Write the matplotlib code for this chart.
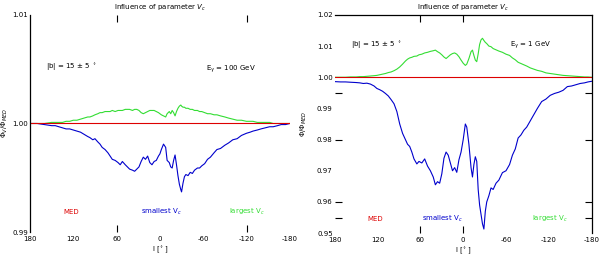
import numpy as np
import matplotlib
matplotlib.use("Agg")
import matplotlib.pyplot as plt
from matplotlib.ticker import FixedLocator

# longitude grid and relative deviations (x1e-4) for the left panel
l_left = [180, 170, 160, 150, 145, 140, 135, 130, 125, 120,
          115, 110, 105, 100, 97, 93, 90, 86, 83, 80,
          76, 72, 69, 66, 62, 58, 55, 52, 48, 45,
          42, 38, 35, 32, 29, 26, 23, 20, 17, 14,
          11, 8, 5, 2, 0, -2, -5, -8, -10, -13,
          -15, -17, -19, -21, -23, -25, -27, -29, -30, -32,
          -34, -36, -39, -42, -45, -48, -52, -55, -58, -62,
          -66, -70, -75, -79, -84, -90, -95, -101, -107, -113,
          -120, -125, -129, -135, -140, -146, -152, -157, -163, -168,
          -174, -180]
small_left = [0, 0, -1, -2, -2, -3, -4, -5, -5, -6,
              -7, -8, -10, -12, -13, -15, -14, -17, -19, -22,
              -24, -27, -30, -33, -34, -36, -38, -35, -38, -40,
              -42, -43, -44, -42, -40, -35, -31, -33, -30, -36,
              -38, -35, -34, -30, -28, -24, -19, -22, -34, -36,
              -40, -41, -34, -29, -38, -48, -56, -61, -63, -55,
              -49, -47, -48, -45, -46, -43, -41, -41, -39, -37,
              -33, -31, -27, -24, -23, -20, -18, -15, -14, -11,
              -9, -8, -7, -6, -5, -4, -3, -3, -2, -1,
              -1, 0]
large_left = [0, 0, 0, 1, 1, 1, 1, 2, 2, 3,
              3, 4, 5, 6, 6, 7, 8, 9, 10, 10,
              11, 11, 11, 12, 11, 12, 12, 12, 13, 13,
              13, 12, 13, 13, 12, 10, 9, 10, 11, 12,
              12, 12, 11, 10, 9, 8, 7, 6, 9, 11,
              9, 12, 10, 7, 11, 14, 16, 17, 16, 15,
              15, 14, 14, 13, 13, 12, 12, 11, 11, 10,
              9, 9, 8, 8, 7, 6, 5, 4, 3, 3,
              2, 2, 2, 1, 1, 1, 1, 0, 0, 0,
              0, 0]

# right panel
l_right = [180, 172, 165, 158, 150, 145, 140, 135, 130, 125,
           121, 117, 113, 109, 105, 101, 97, 93, 89, 85,
           81, 78, 75, 72, 69, 65, 62, 58, 54, 50,
           46, 42, 39, 36, 33, 30, 27, 24, 21, 18,
           15, 12, 9, 6, 3, 0, -3, -5, -8, -11,
           -13, -15, -17, -19, -21, -23, -25, -27, -29, -31,
           -33, -36, -39, -42, -46, -50, -55, -60, -65, -69,
           -73, -77, -81, -85, -89, -94, -99, -104, -110, -116,
           -122, -128, -134, -140, -146, -152, -158, -164, -170, -175,
           -180]
small_right = [-14, -15, -15, -16, -17, -18, -20, -19, -22, -28,
               -36, -40, -45, -52, -60, -72, -85, -110, -150, -180,
               -200, -215, -222, -240, -262, -278, -270, -275, -262, -285,
               -300, -320, -345, -335, -340, -310, -260, -240, -250, -275,
               -300, -290, -305, -265, -240, -200, -150, -160, -215, -290,
               -320, -280, -255, -270, -360, -410, -440, -470, -487, -430,
               -400, -380, -355, -360, -340, -330, -306, -300, -280, -250,
               -230, -195, -185, -170, -160, -140, -120, -100, -78, -70,
               -58, -52, -48, -42, -30, -28, -24, -20, -18, -15,
               -13]
large_right = [0, 0, 0, 1, 1, 2, 2, 3, 4, 5,
               6, 8, 10, 12, 15, 17, 21, 26, 33, 42,
               52, 58, 62, 64, 67, 68, 72, 74, 78, 80,
               83, 85, 87, 82, 78, 72, 65, 60, 66, 72,
               76, 78, 74, 66, 55, 45, 38, 42, 60, 82,
               87, 70, 55, 50, 75, 105, 120, 125, 118, 112,
               108, 100, 98, 92, 88, 84, 80, 74, 70, 62,
               56, 48, 44, 40, 36, 30, 26, 22, 19, 14,
               12, 10, 8, 6, 5, 4, 3, 2, 1, 1,
               0]

xticks = [180, 120, 60, 0, -60, -120, -180]

RED = '#dd0000'
BLUE = '#0000cc'
GREEN = '#33dd33'

plt.rcParams['font.size'] = 5

fig = plt.figure(figsize=(6, 2.57), dpi=100)
axL = fig.add_axes([0.05, 0.097, 0.433, 0.845])
axR = fig.add_axes([0.558, 0.093, 0.428, 0.849])


def draw(ax, l, small, large, ylim, yticks, xminor, yminor):
    l = np.array(l)
    ax.plot(l, 1 + np.array(large) * 1e-4, color=GREEN, lw=0.8)
    ax.plot(l, 1 + np.array(small) * 1e-4, color=BLUE, lw=0.8)
    ax.plot([180, -180], [1, 1], color=RED, lw=0.8)
    ax.set_xlim(180, -180)
    ax.set_ylim(*ylim)
    ax.set_xticks(xticks)
    ax.set_xticklabels([str(t) for t in xticks])
    ax.set_yticks(yticks)
    ax.set_yticklabels(['%.2f' % t for t in yticks])
    ax.tick_params(which='major', length=0, labelsize=5, pad=3)
    ax.tick_params(axis='y', which='major', pad=1.5)
    ax.xaxis.remove_overlapping_locs = False
    ax.yaxis.remove_overlapping_locs = False
    ax.xaxis.set_minor_locator(FixedLocator(xminor))
    ax.yaxis.set_minor_locator(FixedLocator(yminor))
    ax.tick_params(which='minor', direction='in', length=5, width=0.8,
                   top=True, bottom=True, left=True, right=True)
    ax.set_title(r'Influence of parameter $V_c$', fontsize=5, pad=4)
    ax.set_xlabel(r'l [$^\circ$]', fontsize=5, labelpad=2)


draw(axL, l_left, small_left, large_left, (0.99, 1.01),
     [0.99, 1.00, 1.01], [60, -120], [])
axL.set_ylabel(r'$\Phi_V/\Phi_{MED}$', fontsize=5)
axL.yaxis.set_label_coords(-0.078, 0.5)
for s in ['top', 'right', 'bottom']:
    axL.spines[s].set_visible(False)
axL.spines['left'].set_linewidth(0.9)

draw(axR, l_right, small_right, large_right, (0.95, 1.02),
     [0.95, 0.96, 0.97, 0.98, 0.99, 1.00, 1.01, 1.02],
     [60, 0], [0.995, 0.98, 0.96, 0.955])
axR.set_ylabel(r'$\Phi/\Phi_{MED}$', fontsize=5)
axR.yaxis.set_label_coords(-0.1, 0.5)
for s in ['left', 'bottom']:
    axR.spines[s].set_visible(False)
for s in ['top', 'right']:
    axR.spines[s].set_linewidth(0.9)

# annotations
axL.text(0.158, 0.76, r'|b| = 15 $\pm$ 5 $^\circ$', transform=axL.transAxes, ha='center', va='center')
axL.text(0.773, 0.75, r'E$_\gamma$ = 100 GeV', transform=axL.transAxes, ha='center', va='center')
axL.text(0.16, 0.092, 'MED', color=RED, transform=axL.transAxes, ha='center', va='center')
axL.text(0.508, 0.092, r'smallest V$_c$', color=BLUE, transform=axL.transAxes, ha='center', va='center')
axL.text(0.835, 0.092, r'largest V$_c$', color=GREEN, transform=axL.transAxes, ha='center', va='center')

axR.text(0.163, 0.862, r'|b| = 15 $\pm$ 5 $^\circ$', transform=axR.transAxes, ha='center', va='center')
axR.text(0.763, 0.862, r'E$_\gamma$ = 1 GeV', transform=axR.transAxes, ha='center', va='center')
axR.text(0.156, 0.064, 'MED', color=RED, transform=axR.transAxes, ha='center', va='center')
axR.text(0.42, 0.064, r'smallest V$_c$', color=BLUE, transform=axR.transAxes, ha='center', va='center')
axR.text(0.837, 0.064, r'largest V$_c$', color=GREEN, transform=axR.transAxes, ha='center', va='center')

fig.savefig('out.png', dpi=100)
